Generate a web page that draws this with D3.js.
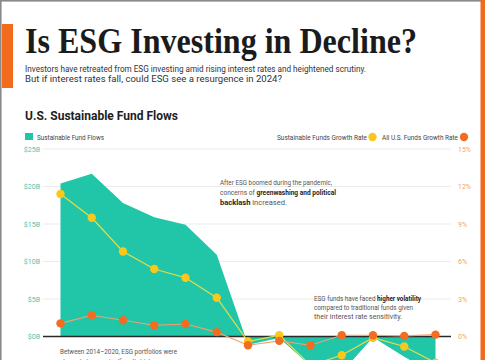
<!DOCTYPE html>
<html><head><meta charset="utf-8">
<script src="https://cdn.jsdelivr.net/npm/d3@7"></script>
<style>html,body{margin:0;padding:0;background:#fff;overflow:hidden}svg{display:block}</style>
</head><body>
<svg id="chart" width="485" height="360"></svg>
<script>
// ---- data ----
const quarters = ["Q4 2020","Q1 2021","Q2 2021","Q3 2021","Q4 2021","Q1 2022","Q2 2022","Q3 2022","Q4 2022","Q1 2023","Q2 2023","Q3 2023","Q4 2023"];
const fundFlows = [20.4, 21.7, 17.8, 15.9, 14.9, 10.9, -1.1, -0.2, -3.9, -4.8, -0.1, -2.7, -5.1];      // $B
const sustainableGrowth = [11.4, 9.5, 6.8, 5.4, 4.7, 3.1, -0.4, 0.1, -2.3, -1.5, -0.1, -0.8, -2.1]; // %
const allFundsGrowth = [1.05, 1.7, 1.3, 0.9, 1.0, 0.35, -0.7, -0.35, -0.7, 0.1, 0.1, 0.05, 0.15];   // %
const flowTicks = [0, 5, 10, 15, 20, 25];
const flowTickLabels = ["$0B","$5B","$10B","$15B","$20B","$25B"];
const rateTicks = [0, 3, 6, 9, 12, 15];
const rateTickLabels = ["0%","3%","6%","9%","12%","15%"];

const TEAL = "#20c6a7", YELLOW = "#f8c81c", ORANGE = "#f26d21";
const svg = d3.select("#chart");
const sans = "Roboto, 'Noto Sans', sans-serif";

// frame
svg.append("rect").attr("x",0).attr("y",0).attr("width",481).attr("height",1.6).attr("fill","#8a8a8a");
svg.append("rect").attr("x",0).attr("y",0).attr("width",1.6).attr("height",360).attr("fill","#8a8a8a");
svg.append("rect").attr("x",480.5).attr("y",0).attr("width",5).attr("height",360).attr("fill","#ef6a1e");
svg.append("rect").attr("x",2).attr("y",24).attr("width",11).attr("height",64).attr("fill","#f26a1b");

function txt(x, y, parts, size, len, fill, weight, family, anchor) {
  const t = svg.append("text").attr("x", x).attr("y", y)
    .attr("font-size", size).attr("font-family", family || sans)
    .attr("fill", fill || "#444").attr("font-weight", weight || 400)
    .attr("text-anchor", anchor || "start");
  if (typeof parts === "string") parts = [[parts, false]];
  parts.forEach(p => t.append("tspan").text(p[0]).attr("font-weight", p[1] ? 700 : null).attr("fill", p[1] ? "#1e1e1e" : null));
  if (len) t.attr("textLength", len).attr("lengthAdjust", "spacingAndGlyphs");
  return t;
}

// titles
txt(25, 53, "Is ESG Investing in Decline?", 36.5, 392, "#1b1b1b", 700, "'Liberation Serif','DejaVu Serif',serif");
txt(25, 71.5, "Investors have retreated from ESG investing amid rising interest rates and heightened scrutiny.", 9.3, 341, "#333");
txt(25, 82, "But if interest rates fall, could ESG see a resurgence in 2024?", 9.3, 257, "#333");
txt(25, 119.5, "U.S. Sustainable Fund Flows", 13, 153, "#1e1e1e", 700);

// legends
svg.append("rect").attr("x",25).attr("y",133).attr("width",8).attr("height",7).attr("fill",TEAL);
txt(37, 139.5, "Sustainable Fund Flows", 7, 67, "#444");
txt(277, 139.5, "Sustainable Funds Growth Rate", 7, 90, "#444");
svg.append("circle").attr("cx",372.5).attr("cy",137).attr("r",4.2).attr("fill",YELLOW);
txt(382, 139.5, "All U.S. Funds Growth Rate", 7, 76, "#444");
svg.append("circle").attr("cx",464).attr("cy",137).attr("r",4.2).attr("fill",ORANGE);

// scales
const x = d3.scalePoint().domain(quarters).range([60.5, 435.5]);
const yFlow = d3.scaleLinear().domain([0, 25]).range([336.5, 149]);
const yRate = d3.scaleLinear().domain([0, 15]).range([336.5, 149]);
const gridX0 = 43, gridX1 = 451;

// grid
svg.append("g").selectAll("line").data(flowTicks.filter(d => d !== 0)).join("line")
  .attr("x1", gridX0).attr("x2", gridX1)
  .attr("y1", d => yFlow(d)).attr("y2", d => yFlow(d))
  .attr("stroke", "#e6e6e6").attr("stroke-width", 0.8);

// axes
const axL = svg.append("g").attr("transform", `translate(${gridX0},0)`)
  .call(d3.axisLeft(yFlow).tickValues(flowTicks).tickSize(0).tickPadding(3)
    .tickFormat((d, i) => flowTickLabels[i]));
axL.select(".domain").remove();
axL.selectAll("text").attr("fill", "#52c3ad").attr("font-size", 7).attr("font-family", sans)
  .attr("transform", "scale(1,1)");
const axR = svg.append("g").attr("transform", `translate(455,0)`)
  .call(d3.axisRight(yRate).tickValues(rateTicks).tickSize(0).tickPadding(3)
    .tickFormat((d, i) => rateTickLabels[i]));
axR.select(".domain").remove();
axR.selectAll("text").attr("fill", "#efa66a").attr("font-size", 7).attr("font-family", sans);

// area
const area = d3.area().x((d, i) => x(quarters[i])).y0(yFlow(0)).y1(d => yFlow(d));
svg.append("path").datum(fundFlows).attr("d", area).attr("fill", TEAL);

// zero line
svg.append("line").attr("x1", gridX0).attr("x2", gridX1).attr("y1", yFlow(0)).attr("y2", yFlow(0))
  .attr("stroke", "#2a2a2a").attr("stroke-width", 1.4);

// lines
const lineS = d3.line().x((d, i) => x(quarters[i])).y(d => yRate(d));
svg.append("path").datum(sustainableGrowth).attr("d", lineS).attr("fill", "none")
  .attr("stroke", "#e6dc4a").attr("stroke-width", 1.2);
svg.append("g").selectAll("circle").data(sustainableGrowth).join("circle")
  .attr("cx", (d, i) => x(quarters[i])).attr("cy", d => yRate(d)).attr("r", 4.2).attr("fill", YELLOW);

svg.append("path").datum(allFundsGrowth).attr("d", lineS).attr("fill", "none")
  .attr("stroke", "#f4a070").attr("stroke-width", 1.1);
svg.append("g").selectAll("circle").data(allFundsGrowth).join("circle")
  .attr("cx", (d, i) => x(quarters[i])).attr("cy", d => yRate(d)).attr("r", 4.2).attr("fill", ORANGE);

// annotations
txt(220, 185, "After ESG boomed during the pandemic,", 7, 112, "#555");
txt(220, 195, [["concerns of ", false], ["greenwashing and political", true]], 7, 116, "#555");
txt(220, 204.5, [["backlash", true], [" increased.", false]], 7, 67, "#555");

txt(314, 300.5, [["ESG funds have faced ", false], ["higher volatility", true]], 7, 107, "#555");
txt(314, 309.5, "compared to traditional funds given", 7, 99, "#555");
txt(314, 318.5, "their interest rate sensitivity.", 7, 88, "#555");

txt(60, 354, "Between 2014\u20132020, ESG portfolios were", 7, 117, "#555");
txt(60, 364, "shown to have a significantly higher excess", 7, 118, "#555");
</script>
</body></html>
